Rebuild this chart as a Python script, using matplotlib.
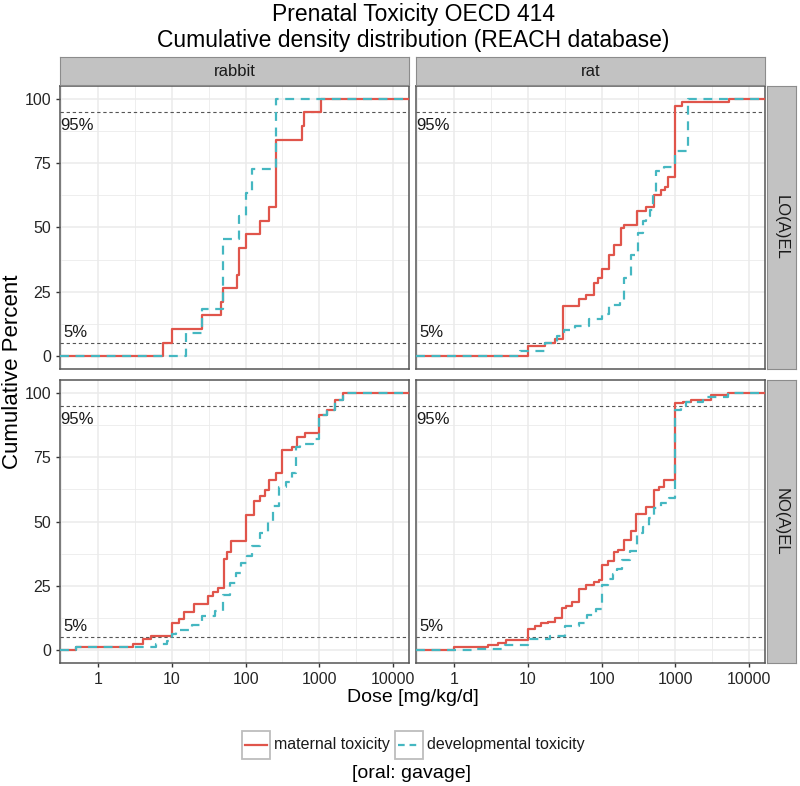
import numpy as np
import matplotlib
matplotlib.use('Agg')
import matplotlib.pyplot as plt
from matplotlib.patches import Rectangle
from matplotlib.lines import Line2D

plt.rcParams['font.family'] = ['Liberation Sans', 'DejaVu Sans']

# --- data: dose steps [mg/kg/d] and cumulative percent after each step ---
# rabbit, LO(A)EL
rab_lo_mat_dose = [7.5, 10.2, 26, 47, 50, 76, 81, 102, 155, 208, 257, 574, 620, 1040]
rab_lo_mat_cum = [5.3, 10.5, 15.8, 21.1, 26.3, 31.6, 42.1, 47.4, 52.6, 57.9, 84.2, 89.5, 94.7, 100]
rab_lo_dev_dose = [15.5, 26, 49, 81, 102, 123, 257]
rab_lo_dev_cum = [9.1, 18.2, 45.5, 54.5, 63.6, 72.7, 100]

# rat, LO(A)EL
rat_lo_mat_dose = [10, 17.2, 23.6, 29.7, 50, 60.5, 78.6, 90, 100, 126, 147, 181, 200,
                   306, 406, 517, 631, 731, 786, 1000, 1230, 5330]
rat_lo_mat_cum = [3.9, 5.2, 6.7, 19.4, 22.3, 23.9, 28.5, 30.4, 33.9, 39.5, 43.3, 49.8, 51.1,
                  56.3, 58.0, 62.7, 64.4, 65.7, 69.6, 97.3, 98.6, 100]
rat_lo_dev_dose = [7.9, 17.2, 24.8, 30.6, 44, 67, 100, 126, 176, 200, 254, 316, 359,
                   406, 451, 500, 545, 700, 1000, 1490]
rat_lo_dev_cum = [1.9, 5.2, 8.0, 10.3, 11.9, 14.5, 16.2, 20.0, 22.0, 30.4, 39.5, 47.9, 52.4,
                  54.3, 56.9, 62.7, 71.8, 73.7, 79.6, 100]

# rabbit, NO(A)EL
rab_no_mat_dose = [0.5, 2.97, 4.07, 5.17, 10, 12.6, 14.7, 20, 30.6, 35.9, 42, 50.7, 55.6, 63.8,
                   100, 130, 158, 181, 206, 262, 316, 420, 501, 638, 1000, 1260, 1640, 2080]
rab_no_mat_cum = [1.3, 2.3, 4.5, 5.5, 10.7, 12.0, 14.8, 18.1, 21.0, 22.6, 24.3, 35.5, 38.0, 42.3,
                  52.6, 58.1, 60.0, 62.1, 66.2, 68.8, 77.8, 78.8, 83.0, 84.5, 91.4, 93.5, 97.4, 100]
rab_no_dev_dose = [0.5, 6.05, 8.7, 10, 11.3, 19, 26, 39, 49, 60.5, 74.6, 87.3, 105, 123, 158,
                   200, 236, 285, 351, 420, 480, 545, 810, 1000, 1260, 1640, 2080]
rab_no_dev_cum = [1.3, 2.3, 3.6, 6.2, 7.7, 9.7, 13.3, 15.2, 21.3, 26.2, 29.8, 33.9, 36.5, 40.4, 45.5,
                  50.0, 55.9, 63.6, 65.5, 68.8, 78.8, 80.1, 81.9, 91.4, 93.5, 97.4, 100]

# rat, NO(A)EL
rat_no_mat_dose = [1, 2.9, 4, 5, 10, 12.6, 15.2, 19, 23.6, 29, 33, 40, 50, 60.5, 78.6, 92,
                   100, 123, 147, 165, 200, 248, 297, 398, 517, 593, 700, 1000, 1260, 1640,
                   3060, 5170]
rat_no_mat_cum = [1.3, 1.9, 2.7, 4.0, 8.4, 9.2, 10.5, 11.0, 12.6, 16.5, 17.2, 18.7, 23.6, 25.5,
                  26.5, 27.2, 32.9, 34.6, 38.1, 39.1, 43.0, 46.2, 53.0, 55.6, 62.1, 63.6, 66.2,
                  95.9, 96.5, 97.2, 99.1, 100]
rat_no_dev_dose = [1.9, 4.9, 10, 20, 32, 49, 63, 83, 100, 123, 143, 164, 191, 241, 306, 359,
                   442, 517, 631, 828, 1000, 1200, 1400, 2360, 5170]
rat_no_dev_cum = [0.6, 1.9, 4.3, 5.5, 9.2, 10.7, 13.5, 16.1, 25.2, 27.5, 29.4, 31.6, 35.0, 38.5,
                  45.5, 47.9, 51.4, 55.2, 57.2, 59.1, 93.5, 94.8, 96.5, 98.2, 100]

species = ['rabbit', 'rat']
endpoints = ['LO(A)EL', 'NO(A)EL']
x_ticks = [1, 10, 100, 1000, 10000]
y_ticks = [0, 25, 50, 75, 100]

panels = {
    ('LO(A)EL', 'rabbit'): (rab_lo_mat_dose, rab_lo_mat_cum, rab_lo_dev_dose, rab_lo_dev_cum),
    ('LO(A)EL', 'rat'): (rat_lo_mat_dose, rat_lo_mat_cum, rat_lo_dev_dose, rat_lo_dev_cum),
    ('NO(A)EL', 'rabbit'): (rab_no_mat_dose, rab_no_mat_cum, rab_no_dev_dose, rab_no_dev_cum),
    ('NO(A)EL', 'rat'): (rat_no_mat_dose, rat_no_mat_cum, rat_no_dev_dose, rat_no_dev_cum),
}

red = '#E0554B'
cyan = '#45B7C1'
strip_fill = '#C2C2C2'
strip_edge = '#8C8C8C'
border = '#555555'
grid_col = '#EBEBEB'

W, H = 800, 786
fig = plt.figure(figsize=(W / 100, H / 100), dpi=100)

# x range: data 0.5..10000 with 5% expansion on log scale
lo, hi = np.log10(0.5), np.log10(10000)
pad = 0.05 * (hi - lo)
xmin, xmax = 10 ** (lo - pad), 10 ** (hi + pad)


def fig_rect(x0, y0, x1, y1):
    return [x0 / W, 1 - y1 / H, (x1 - x0) / W, (y1 - y0) / H]


def ecdf_line(ax, dose, cum, **kw):
    xs = [xmin] + list(dose) + [xmax]
    ys = [0] + list(cum) + [cum[-1]]
    ax.step(xs, ys, where='post', **kw)


col_x = [(60, 409), (416, 765)]
row_y = [(86, 369), (380, 663)]

for r, ep in enumerate(endpoints):
    for c, sp in enumerate(species):
        x0, x1 = col_x[c]
        y0, y1 = row_y[r]
        ax = fig.add_axes(fig_rect(x0, y0, x1, y1))
        md, mc, dd, dc = panels[(ep, sp)]
        ax.set_xscale('log')
        ax.set_xlim(xmin, xmax)
        ax.set_ylim(-5, 105)
        # grid
        minor_x = [10 ** (k + 0.5) for k in range(-1, 5)]
        for xv in minor_x:
            ax.axvline(xv, color=grid_col, lw=0.6, zorder=0)
        for xv in x_ticks:
            ax.axvline(xv, color=grid_col, lw=1.1, zorder=0)
        for yv in [12.5, 37.5, 62.5, 87.5]:
            ax.axhline(yv, color=grid_col, lw=0.6, zorder=0)
        for yv in y_ticks:
            ax.axhline(yv, color=grid_col, lw=1.1, zorder=0)
        # reference lines
        ax.axhline(95, color='#555555', lw=0.8, ls=(0, (3, 2.5)), zorder=1)
        ax.axhline(5, color='#555555', lw=0.8, ls=(0, (3, 2.5)), zorder=1)
        ax.text(xmin * 1.0, 92.5, '95%', ha='left', va='top', fontsize=12, color='#1a1a1a')
        ax.text(xmin * 1.12, 6.2, '5%', ha='left', va='bottom', fontsize=12, color='#1a1a1a')
        ecdf_line(ax, md, mc, color=red, lw=1.6, zorder=3)
        ecdf_line(ax, dd, dc, color=cyan, lw=1.6, ls=(0, (4, 3)), zorder=4)
        ax.minorticks_off()
        ax.set_yticks(y_ticks)
        ax.set_xticks(x_ticks)
        ax.tick_params(length=3, width=1, color='#333333', labelsize=11.5, labelcolor='#262626')
        if c == 0:
            ax.set_yticklabels([str(v) for v in y_ticks])
        else:
            ax.tick_params(axis='y', left=False, labelleft=False)
        if r == 1:
            ax.set_xticklabels([str(v) for v in x_ticks])
        else:
            ax.tick_params(axis='x', bottom=False, labelbottom=False)
        for s in ax.spines.values():
            s.set_color(border)
            s.set_linewidth(1.1)

# strips on top
for c, sp in enumerate(species):
    x0, x1 = col_x[c]
    sax = fig.add_axes(fig_rect(x0, 57, x1, 85))
    sax.set_xticks([])
    sax.set_yticks([])
    sax.set_facecolor(strip_fill)
    for s in sax.spines.values():
        s.set_color(strip_edge)
        s.set_linewidth(0.8)
    sax.text(0.5, 0.5, sp, ha='center', va='center', fontsize=12, color='#1a1a1a',
             transform=sax.transAxes)

# strips on right
for r, ep in enumerate(endpoints):
    y0, y1 = row_y[r]
    sax = fig.add_axes(fig_rect(767, y0, 796, y1))
    sax.set_xticks([])
    sax.set_yticks([])
    sax.set_facecolor(strip_fill)
    for s in sax.spines.values():
        s.set_color(strip_edge)
        s.set_linewidth(0.8)
    sax.text(0.5, 0.5, ep, ha='center', va='center', fontsize=12, color='#1a1a1a',
             rotation=270, transform=sax.transAxes)

# titles and axis labels
fig.text(413 / W, 1 - 15 / H, 'Prenatal Toxicity OECD 414', ha='center', va='center', fontsize=16.5)
fig.text(413 / W, 1 - 41 / H, 'Cumulative density distribution (REACH database)', ha='center',
         va='center', fontsize=16.5)
fig.text(13 / W, 1 - 372 / H, 'Cumulative Percent', ha='center', va='center', rotation=90,
         fontsize=16)
fig.text(413 / W, 1 - 698 / H, 'Dose [mg/kg/d]', ha='center', va='center', fontsize=14)

# legend
lax = fig.add_axes([0, 0, 1, 1], facecolor='none')
lax.set_xlim(0, W)
lax.set_ylim(H, 0)
lax.axis('off')
for (bx, col, ls, lab) in [(242, red, '-', 'maternal toxicity'),
                           (395, cyan, (0, (3, 2.2)), 'developmental toxicity')]:
    lax.add_patch(Rectangle((bx, 731), 28, 28, facecolor='white', edgecolor='#BDBDBD', lw=1.3))
    lax.add_line(Line2D([bx + 3, bx + 25], [745, 745], color=col, lw=1.6, ls=ls))
    lax.text(bx + 32, 745, lab, ha='left', va='center', fontsize=11.5, color='#1a1a1a')
fig.text(412 / W, 1 - 773 / H, '[oral: gavage]', ha='center', va='center', fontsize=14)

fig.savefig('out.png', dpi=100)
